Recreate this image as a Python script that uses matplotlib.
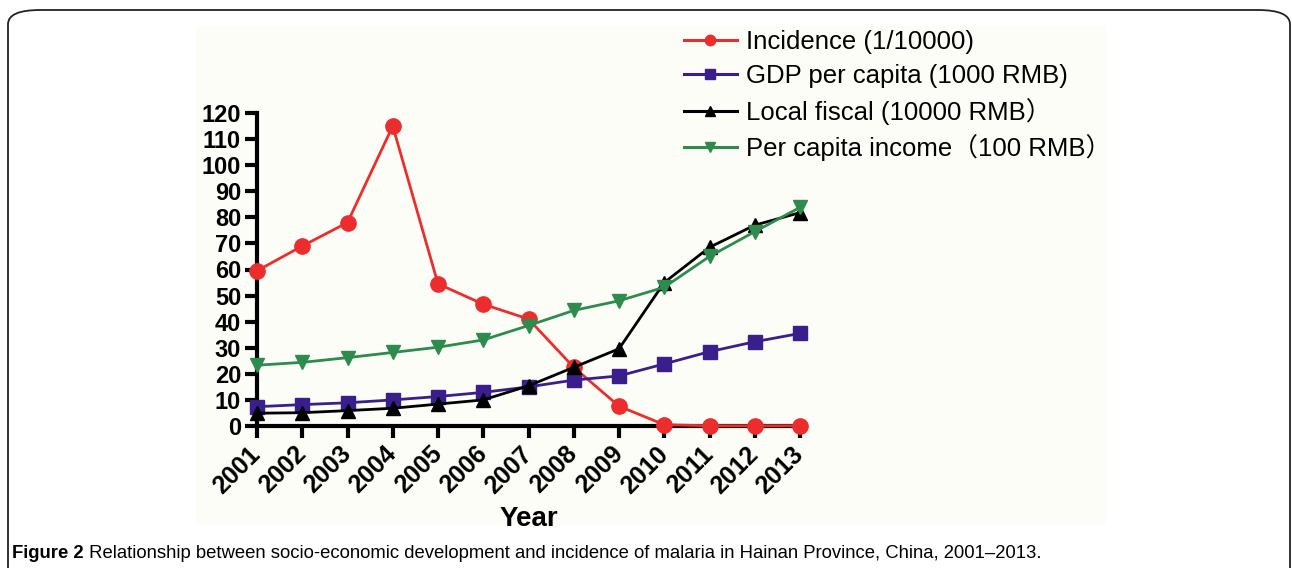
import matplotlib.pyplot as plt
from matplotlib.lines import Line2D
from matplotlib.patches import FancyBboxPatch, Rectangle

years = list(range(2001, 2014))
incidence = [59.5, 69, 78, 115, 54.5, 46.7, 41, 22.5, 7.6, 0.5, 0.1, 0.1, 0.1]
gdp = [7.4, 8.2, 8.9, 10, 11.3, 12.9, 15, 17.6, 19.2, 23.8, 28.5, 32.3, 35.5]
fiscal = [4.9, 5.1, 5.9, 6.8, 8.4, 10, 15.4, 22.5, 29.6, 55, 68.5, 77, 81.8]
income = [23.3, 24.4, 26.2, 28.2, 30.2, 33, 38.5, 44.3, 48, 53.2, 65, 74.5, 83.8]
labels = ['Incidence (1/10000)', 'GDP per capita (1000 RMB)',
          'Local fiscal (10000 RMB）', 'Per capita income（100 RMB）']
caption_bold = 'Figure 2'
caption_rest = (' Relationship between socio-economic development and incidence of '
                'malaria in Hainan Province, China, 2001\u20132013.')

plt.rcParams['font.family'] = ['Liberation Sans', 'Noto Sans CJK SC', 'DejaVu Sans']

W, H = 1292, 568
fig = plt.figure(figsize=(W / 100, H / 100), dpi=100)

# panel border and off-white image area
fig.patches.append(FancyBboxPatch((8 / W, -0.05), (1282 / W), (1 - 10 / H) + 0.05,
                                  boxstyle='round,pad=0,rounding_size=0.025',
                                  transform=fig.transFigure, fill=False,
                                  edgecolor='#222222', linewidth=1.3, zorder=-2))
fig.patches.append(Rectangle((196 / W, 1 - 525 / H), 910 / W, 499 / H,
                             transform=fig.transFigure, facecolor='#fdfdf7',
                             edgecolor='none', zorder=-1))

ax = fig.add_axes([257 / W, 1 - 426 / H, 543 / W, 313 / H])
ax.patch.set_alpha(0)

series = [
    (incidence, '#ec2d2d', 'o', 11),
    (gdp, '#3a1f8c', 's', 10),
    (fiscal, 'black', '^', 10),
    (income, '#2e8b4e', 'v', 10),
]
handles = []
for (vals, col, mk, ms), lab in zip(series, labels):
    ax.plot(years, vals, color=col, marker=mk, markersize=ms, linewidth=2,
            clip_on=False, zorder=3)
    handles.append(Line2D([], [], color=col, marker=mk, markersize=7.5, linewidth=2.2))

ax.set_xlim(2001, 2013)
ax.set_ylim(0, 120)
ax.set_yticks(range(0, 121, 10))
ax.set_xticks(years)
ax.set_xticklabels([str(y) for y in years], rotation=45, ha='right',
                   va='center', rotation_mode='anchor')
for s in ['top', 'right']:
    ax.spines[s].set_visible(False)
for s in ['left', 'bottom']:
    ax.spines[s].set_linewidth(3)
ax.tick_params(width=3, length=8.5, pad=3)
ax.tick_params(axis='y', labelsize=17)
ax.tick_params(axis='x', labelsize=18, pad=9)
for t in ax.get_xticklabels() + ax.get_yticklabels():
    t.set_fontweight('bold')
ax.set_xlabel('Year', fontsize=20, fontweight='bold', labelpad=6)

fig.legend(handles, labels, loc='upper left', bbox_to_anchor=(684 / W, 1 - 30 / H),
           frameon=False, fontsize=18.5, handlelength=2.05, handletextpad=0.35,
           labelspacing=0.38, borderaxespad=0, borderpad=0)

t1 = fig.text(12 / W, 1 - 553 / H, caption_bold, fontsize=13.3, fontweight='bold',
              va='center', ha='left')
fig.canvas.draw()
bb = t1.get_window_extent()
fig.text(bb.x1 / W, 1 - 553 / H, caption_rest, fontsize=13.3, va='center', ha='left')

fig.savefig('out.png', dpi=100)
